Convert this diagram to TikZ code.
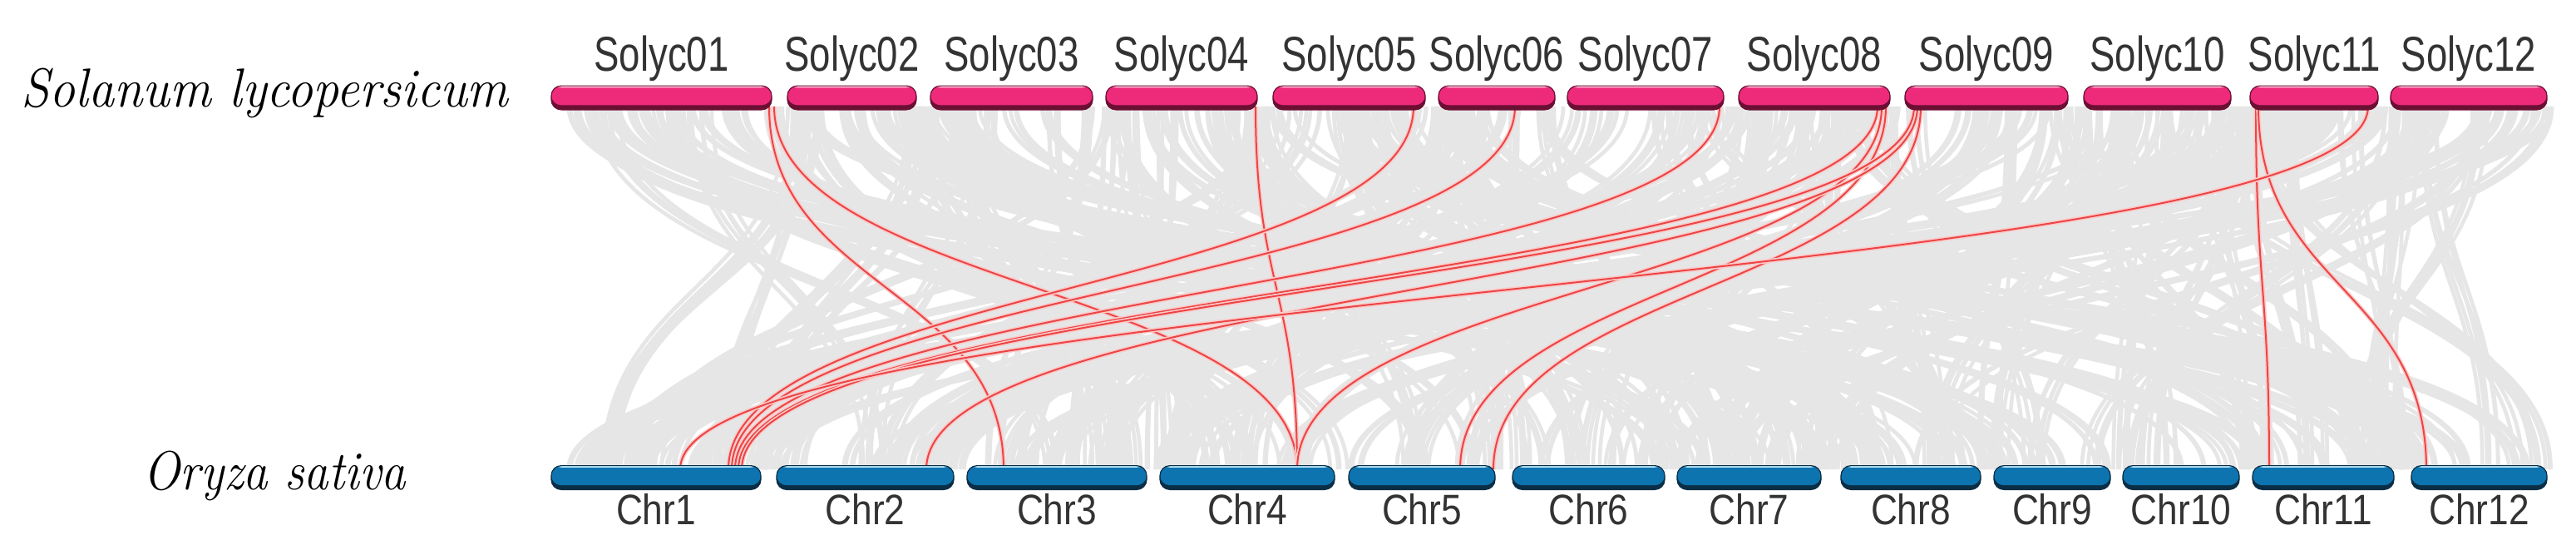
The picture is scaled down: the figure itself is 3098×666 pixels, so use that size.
\documentclass[tikz,border=0pt]{standalone}
\usepackage{graphicx}
\usepackage{fontspec}
\setsansfont{Liberation Sans}
\usetikzlibrary{calc}
\definecolor{pinkfill}{HTML}{EE2A7B}
\definecolor{pinkdark}{HTML}{6B0F33}
\definecolor{pinkhi}{HTML}{FFC8DE}
\definecolor{bluefill}{HTML}{0E74B0}
\definecolor{bluedark}{HTML}{0A2E45}
\definecolor{bluehi}{HTML}{BDE8FA}
\definecolor{linkgray}{HTML}{E6E6E6}
\definecolor{labgray}{HTML}{333333}
\definecolor{linkred}{HTML}{EC4545}
\newcommand\tlab[1]{\scalebox{0.775}[1]{#1}}
\newcommand\blab[1]{\scalebox{0.865}[1]{#1}}
\begin{document}
\begin{tikzpicture}[x=0.25pt,y=-0.25pt,
  bar/.style={rectangle, rounded corners=3pt, inner sep=0pt, outer sep=0pt, minimum height=7.2pt, line width=0.3pt},
  topbar/.style={bar, fill=pinkdark, draw=pinkdark, path picture={
     \fill[pinkfill] ([yshift=1.4pt]path picture bounding box.south west) rectangle (path picture bounding box.north east);
     \fill[pinkhi] ([yshift=-0.55pt]path picture bounding box.north west) rectangle (path picture bounding box.north east);}},
  botbar/.style={bar, fill=bluedark, draw=bluedark, path picture={
     \fill[bluefill] ([yshift=1.3pt]path picture bounding box.south west) rectangle (path picture bounding box.north east);
     \fill[bluehi] ([yshift=-0.55pt]path picture bounding box.north west) rectangle (path picture bounding box.north east);}},
  toplab/.style={font=\sffamily\fontsize{14.7}{16}\selectfont, text=labgray, inner sep=0pt, anchor=base},
  botlab/.style={font=\sffamily\fontsize{12.8}{14}\selectfont, text=labgray, inner sep=0pt, anchor=base},
  species/.style={font=\fontsize{16.5}{20}\selectfont\itshape, inner sep=0pt, anchor=base west},
  grayln/.style={draw=linkgray, line width=1.15pt},
  redlink/.style={draw=linkred, line width=0.5pt, preaction={draw=linkred!28, line width=1.3pt}}
]
\fill[white] (0,0) rectangle (3098,666);
\useasboundingbox (0,0) rectangle (3098,666);
\coordinate (mid) at (0,346);

% background synteny links
\pgfmathsetseed{4242}
\foreach \k in {1,...,210}{
  \pgfmathsetmacro\ta{672+2380*rnd}
  \pgfmathsetmacro\ba{672+2380*rnd}
  \foreach \j in {1,...,5}{
    \pgfmathsetmacro\tx{\ta+30*rnd}
    \pgfmathsetmacro\bx{\ba+30*rnd}
    \draw[grayln] (\tx,128) .. controls (\tx,346) and (\bx,346) .. (\bx,564);
  }
}

% link end points
\foreach \nm/\x in {t1a/925,t1b/931,t4/1510,t5/1700,t6/1822,t7/2068,t8a/2258,t8b/2263,t8c/2268,t9a/2302,t9b/2306,t9c/2310,t11a/2713,t11b/2716,t11c/2848}
  {\coordinate (\nm) at (\x,128);}
\foreach \nm/\x in {b1a/818,b1b/876,b1c/880,b1d/884,b1e/888,b1f/892,b2/1114,b3/1207,b4/1560,b5a/1756,b5b/1796,b11/2729,b12/2918}
  {\coordinate (\nm) at (\x,564);}

% highlighted links
\foreach \a/\b in {t1a/b3,t1b/b4,t4/b4,t5/b1b,t6/b1c,t7/b1d,t8a/b1e,t8b/b4,t8c/b5a,t9a/b1f,t9b/b2,t9c/b5b,t11a/b11,t11b/b12,t11c/b1a}
  {\draw[redlink] (\a) .. controls (\a |- mid) and (\b |- mid) .. (\b);}

% top chromosomes
\foreach \i/\c/\w in {01/795.5/66.25,02/1024.5/38.75,03/1216.5/48.75,04/1421/45.5,05/1622.5/45.75,06/1800/35,07/1979/47,08/2182/45.5,09/2389/49,10/2594.5/44.25,11/2783/38.5,12/2969/47}{
  \node[topbar, minimum width=\w pt] (s\i) at (\c,117.5) {};
  \node[toplab] (ls\i) at ([yshift=4.5pt]s\i.north) {\tlab{Solyc\i}};
}
% bottom chromosomes
\foreach \i/\c/\w in {1/789/63,2/1040.5/53.25,3/1271/54,4/1500/52.5,5/1710/44,6/1910.5/45.75,7/2103.5/43.25,8/2298/42,9/2468/35,10/2623/35,11/2794/42.5,12/2981.5/40.75}{
  \node[botbar, minimum width=\w pt] (c\i) at (\c,574) {};
  \node[botlab] (lc\i) at ([yshift=-10.5pt]c\i.south) {\blab{Chr\i}};
}

\node[species] (sl) at (25,128) {\scalebox{0.94}[1]{Solanum lycopersicum}};
\node[species] (os) at (172,588) {\scalebox{0.89}[1]{Oryza sativa}};
\end{tikzpicture}
\end{document}
